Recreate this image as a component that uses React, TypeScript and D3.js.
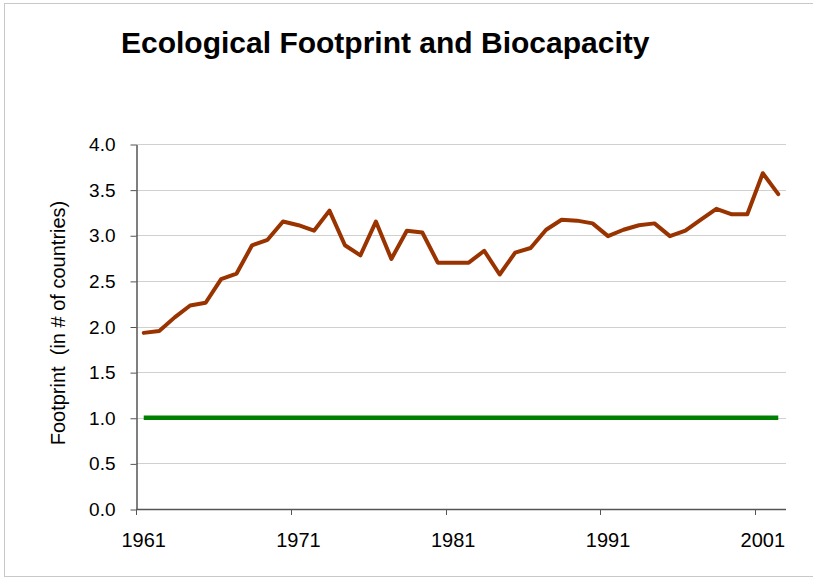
import React, { useEffect, useRef } from "react";
import * as d3 from "d3";

// categories (years)
const years = [
  1961, 1962, 1963, 1964, 1965, 1966, 1967, 1968, 1969, 1970,
  1971, 1972, 1973, 1974, 1975, 1976, 1977, 1978, 1979, 1980,
  1981, 1982, 1983, 1984, 1985, 1986, 1987, 1988, 1989, 1990,
  1991, 1992, 1993, 1994, 1995, 1996, 1997, 1998, 1999, 2000,
  2001, 2002,
];

// footprint, in number of earths
const footprint = [
  1.93, 1.95, 2.1, 2.23, 2.26, 2.52, 2.58, 2.89, 2.95, 3.15,
  3.11, 3.05, 3.27, 2.89, 2.78, 3.15, 2.74, 3.05, 3.03, 2.7,
  2.7, 2.7, 2.83, 2.57, 2.81, 2.86, 3.06, 3.17, 3.16, 3.13,
  2.99, 3.06, 3.11, 3.13, 2.99, 3.05, 3.17, 3.29, 3.23, 3.23,
  3.68, 3.45,
];

// biocapacity is the reference line (one planet)
const biocapacity = [
  1, 1, 1, 1, 1, 1, 1, 1, 1, 1,
  1, 1, 1, 1, 1, 1, 1, 1, 1, 1,
  1, 1, 1, 1, 1, 1, 1, 1, 1, 1,
  1, 1, 1, 1, 1, 1, 1, 1, 1, 1,
  1, 1,
];

const yTicks = [0, 0.5, 1, 1.5, 2, 2.5, 3, 3.5, 4];
const xLabelYears = [1961, 1971, 1981, 1991, 2001];

const App = () => {
  const ref = useRef<SVGSVGElement>(null);

  useEffect(() => {
    const width = 813;
    const height = 581;
    const font = "'Liberation Sans', Arial, sans-serif";
    const left = 136,
      right = 786,
      top = 144,
      bottom = 509;

    const svg = d3.select(ref.current);
    svg.selectAll("*").remove();
    svg.attr("width", width).attr("height", height);

    // chart frame
    svg
      .append("rect")
      .attr("x", 4.5)
      .attr("y", 3.5)
      .attr("width", 830)
      .attr("height", 573)
      .attr("fill", "#fff")
      .attr("stroke", "#c8c8c8");

    svg
      .append("text")
      .attr("x", 121)
      .attr("y", 53)
      .attr("font-family", font)
      .attr("font-weight", "bold")
      .attr("font-size", 30)
      .attr("fill", "#000")
      .text("Ecological Footprint and Biocapacity");

    const x = d3
      .scaleBand<number>()
      .domain(years)
      .range([left, right])
      .padding(0);
    const y = d3.scaleLinear().domain([0, 4]).range([bottom, top]);
    const cx = (d: number) => (x(d) as number) + x.bandwidth() / 2;

    // gridlines
    svg
      .append("g")
      .selectAll("line")
      .data(yTicks.filter((d) => d > 0))
      .enter()
      .append("line")
      .attr("x1", left)
      .attr("x2", right)
      .attr("y1", (d) => Math.round(y(d)) + 0.5)
      .attr("y2", (d) => Math.round(y(d)) + 0.5)
      .attr("stroke", "#d0d0d0")
      .attr("stroke-width", 1);

    // y axis
    const yAxis = svg
      .append("g")
      .attr("transform", "translate(" + (left + 0.5) + ",0.5)")
      .call(
        d3
          .axisLeft(y)
          .tickValues(yTicks)
          .tickFormat(d3.format(".1f"))
          .tickSize(6)
          .tickSizeOuter(0)
          .tickPadding(15)
      );
    yAxis.select(".domain").attr("stroke", "#555").attr("stroke-width", 1.5);
    yAxis.selectAll(".tick line").attr("stroke", "#555");
    yAxis
      .selectAll(".tick text")
      .attr("font-family", font)
      .attr("font-size", 19)
      .attr("fill", "#000");

    // x axis: ticks at category boundaries, labels on category centres
    const xg = svg.append("g");
    xg.append("line")
      .attr("x1", left)
      .attr("x2", right)
      .attr("y1", bottom + 0.5)
      .attr("y2", bottom + 0.5)
      .attr("stroke", "#555")
      .attr("stroke-width", 1.5);
    xg.selectAll("line.tick")
      .data(xLabelYears)
      .enter()
      .append("line")
      .attr("class", "tick")
      .attr("x1", (d) => Math.round(x(d) as number) + 0.5)
      .attr("x2", (d) => Math.round(x(d) as number) + 0.5)
      .attr("y1", bottom)
      .attr("y2", bottom + 6)
      .attr("stroke", "#555");
    xg.selectAll("text")
      .data(xLabelYears)
      .enter()
      .append("text")
      .attr("x", (d) => cx(d))
      .attr("y", 547)
      .attr("text-anchor", "middle")
      .attr("font-family", font)
      .attr("font-size", 20)
      .attr("fill", "#000")
      .text((d) => d);

    // y axis title
    svg
      .append("text")
      .attr("transform", "translate(65,323) rotate(-90)")
      .attr("text-anchor", "middle")
      .attr("font-family", font)
      .attr("font-size", 20)
      .attr("fill", "#000")
      .attr("xml:space", "preserve")
      .text("Footprint  (in # of countries)");

    const line = d3
      .line<number>()
      .x((d, i) => cx(years[i]))
      .y((d) => y(d));

    svg
      .append("path")
      .datum(biocapacity)
      .attr("d", line)
      .attr("fill", "none")
      .attr("stroke", "#008000")
      .attr("stroke-width", 4.5);

    svg
      .append("path")
      .datum(footprint)
      .attr("d", line)
      .attr("fill", "none")
      .attr("stroke", "#993300")
      .attr("stroke-width", 4)
      .attr("stroke-linejoin", "round")
      .attr("stroke-linecap", "round");
  }, []);

  return (
    <div style={{ position: "absolute", left: 0, top: 0 }}>
      <svg ref={ref} style={{ display: "block" }}></svg>
    </div>
  );
};

export default App;
